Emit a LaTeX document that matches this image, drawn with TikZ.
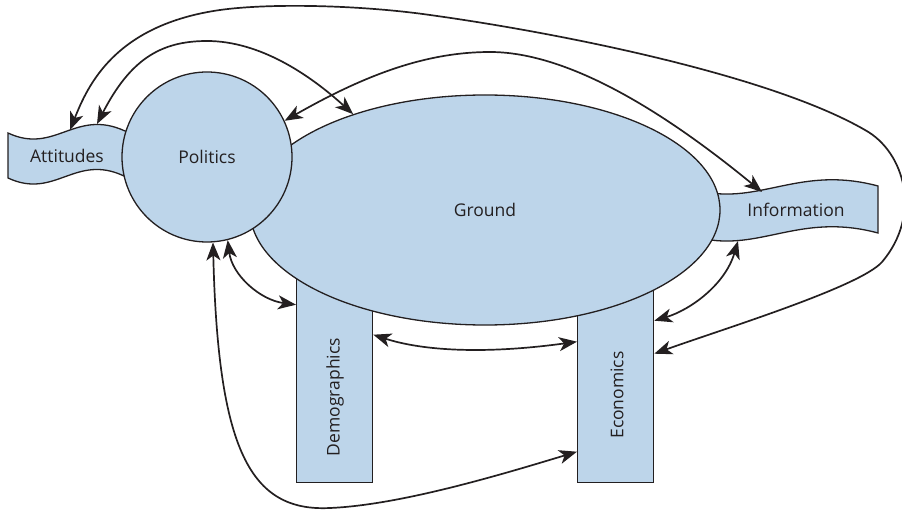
\documentclass[tikz,border=0pt]{standalone}
\usepackage{fontspec}
\setmainfont{Open Sans}
\usetikzlibrary{arrows.meta,shapes.geometric,calc}
\definecolor{panel}{HTML}{BDD5EA}
\definecolor{ink}{HTML}{231F20}
\begin{document}
\begin{tikzpicture}[x=1pt,y=-1pt,
  shapeline/.style={draw=ink,line width=1.3pt,fill=panel},
  lbl/.style={text=ink,font=\fontsize{17.5}{20}\selectfont,inner sep=0pt},
  link/.style={draw=ink,line width=1.7pt,
    {Stealth[length=18pt,width=14pt,inset=5pt]}-{Stealth[length=18pt,width=14pt,inset=5pt]}}]
\useasboundingbox (0,0) rectangle (902,510);

% wavy banners (their inner ends are covered by the circle and the ellipse)
\draw[shapeline] (8,133) .. controls (55,155) and (75,108) .. (125,131) -- (160,133)
  -- (160,178) -- (124,176) .. controls (75,153) and (55,200) .. (8,178) -- cycle;
\draw[shapeline] (690,189) -- (700,191) .. controls (760,205) and (800,165) .. (878,186)
  -- (878,233) .. controls (800,212) and (760,252) .. (700,238) -- (690,238) -- cycle;

% pillars
\node[shapeline,rectangle,minimum width=76pt,minimum height=213pt,anchor=south west,inner sep=0pt]
  (demographics) at (296,483) {};
\node[shapeline,rectangle,minimum width=76pt,minimum height=203pt,anchor=south west,inner sep=0pt]
  (economics) at (577,483) {};

% ground and politics
\node[shapeline,ellipse,minimum width=470pt,minimum height=230pt,inner sep=0pt,
  text=ink,font=\fontsize{17.5}{20}\selectfont] (ground) at (485,210) {Ground};
\node[shapeline,circle,minimum size=170pt,inner sep=0pt,
  text=ink,font=\fontsize{17.5}{20}\selectfont] (politics) at (207,157) {Politics};

% labels
\node[lbl] (attitudes) at (67,156) {Attitudes};
\node[lbl] (information) at (796,210) {Information};
\node[lbl,rotate=90] (demoLabel) at (335,397) {Demographics};
\node[lbl,rotate=90] (econLabel) at (617,395) {Economics};

% attachment points
\coordinate (attA) at (70,130);
\coordinate (attB) at (97,124);
\coordinate (infoTop) at (762,192);
\coordinate (infoBot) at (738,241);
\coordinate (demoL) at ([yshift=-36pt]demographics.north west);
\coordinate (demoR) at ([yshift=-66pt]demographics.north east);
\coordinate (econL1) at ([yshift=-63pt]economics.north west);
\coordinate (econL2) at ([yshift=-173pt]economics.north west);
\coordinate (econR1) at ([yshift=-42pt]economics.north east);
\coordinate (econR2) at ([yshift=-75pt]economics.north east);

% connectors
\draw[link] (attA) .. controls (88,85) and (115,25) .. (220,10)
  .. controls (270,3) and (360,5) .. (430,15)
  .. controls (560,33) and (770,75) .. (865,130)
  .. controls (905,152) and (922,215) .. (882,262)
  .. controls (860,287) and (720,330) .. (econR2);
\draw[link] (attB) .. controls (130,60) and (160,41) .. (207,41)
  .. controls (260,41) and (310,75) .. (ground.144);
\draw[link] (politics.25) .. controls (370,72) and (430,52) .. (490,52)
  .. controls (560,52) and (650,100) .. (infoTop);
\draw[link] (politics.284) .. controls (232,275) and (260,300) .. (demoL);
\draw[link] (politics.274) .. controls (218,450) and (250,512) .. (330,508)
  .. controls (400,505) and (500,475) .. (econL2);
\draw[link] (demoR) .. controls (420,350) and (480,355) .. (econL1);
\draw[link] (infoBot) .. controls (725,285) and (690,310) .. (econR1);
\end{tikzpicture}
\end{document}
